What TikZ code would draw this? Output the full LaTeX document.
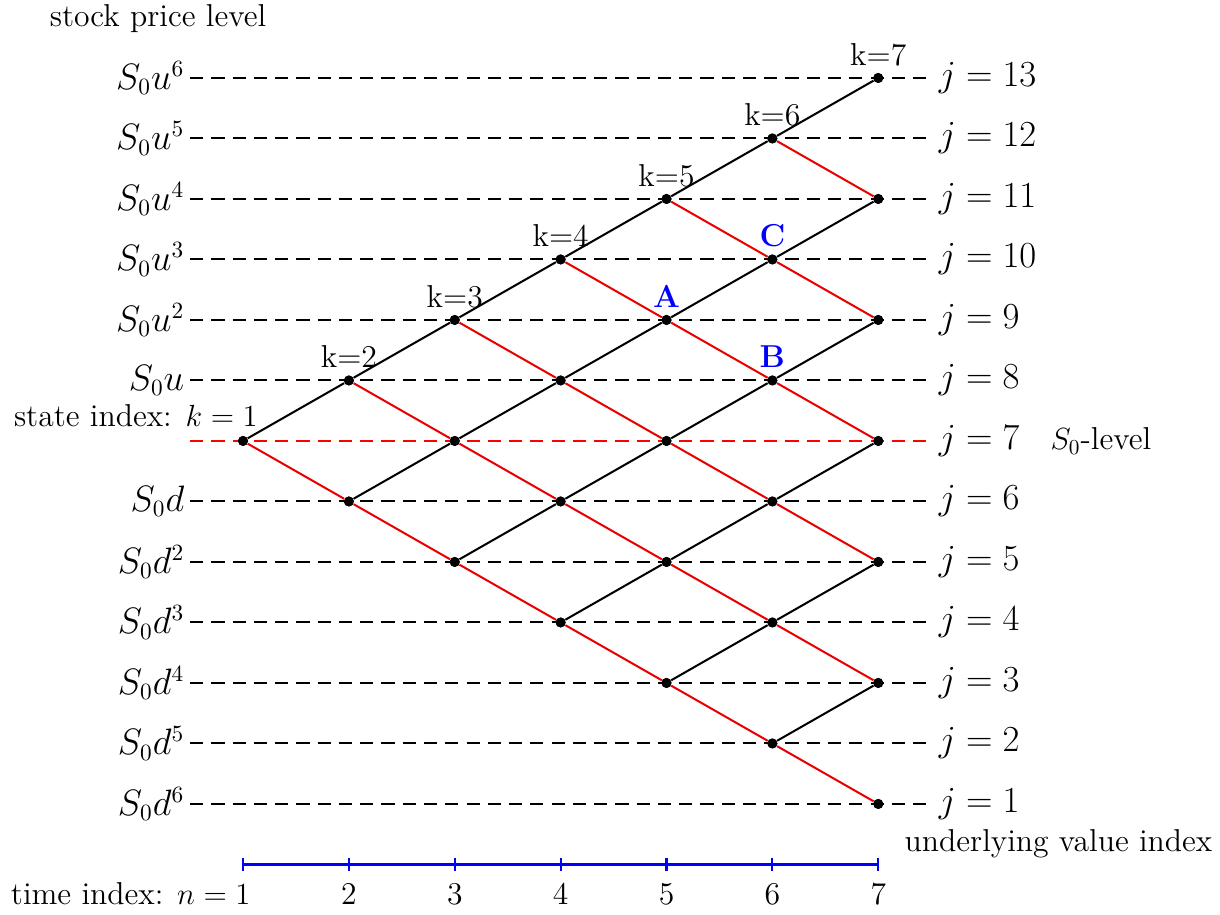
\documentclass[tikz,border=0pt]{standalone}
\usetikzlibrary{calc}
\begin{document}
\begin{tikzpicture}[x=1cm,y=1cm,
  every node/.style={font=\fontsize{14.9pt}{18pt}\selectfont},
  dot/.style={circle,fill=black,inner sep=0pt,minimum size=4.7pt},
  level/.style={dash pattern=on 6.2pt off 3.8pt,line width=0.95pt},
  upedge/.style={line width=0.95pt,black},
  downedge/.style={line width=0.95pt,red!92!black},
  txt/.style={inner sep=0pt},
  sidelab/.style={inner sep=0pt,font=\fontsize{16pt}{19pt}\selectfont},
  klab/.style={inner sep=0pt,anchor=base,yshift=0.117cm},
  letlab/.style={klab,text=blue,font=\fontsize{14.9pt}{18pt}\selectfont\bfseries},
  axis/.style={blue,line width=1pt}]
\useasboundingbox (-4.017,-7.835) rectangle (16.149,7.289);

% level lines
\foreach \j in {1,...,13} {
  \coordinate (L\j) at (-0.875,\j-7);
  \coordinate (R\j) at (11.375,\j-7);
}
\foreach \j in {1,...,6,8,9,10,11,12,13} {
  \draw[level] (L\j) -- (R\j);
}
\draw[level,red] (L7) -- (R7);

% left labels
\foreach \j/\t in {13/{S_0u^6},12/{S_0u^5},11/{S_0u^4},10/{S_0u^3},9/{S_0u^2},8/{S_0u},
                   6/{S_0d},5/{S_0d^2},4/{S_0d^3},3/{S_0d^4},2/{S_0d^5},1/{S_0d^6}} {
  \node[sidelab,anchor=east] (lab\j) at ($(L\j)+(-0.09,0)$) {$\t$};
}
% right labels
\foreach \j in {1,...,13} {
  \node[sidelab,anchor=west] (rlab\j) at ($(R\j)+(0.12,0)$) {$j=\j$};
}
\node[txt,anchor=west] (s0level) at (13.34,0) {$S_0$-level};

% tree nodes
\foreach \n in {1,...,7} {
  \pgfmathtruncatemacro\nm{\n-1}
  \foreach \i in {0,...,\nm} {
    \pgfmathtruncatemacro\j{8-\n+2*\i}
    \node[dot] (\n-\j) at ({(\n-1)*1.75},{\j-7}) {};
  }
}
% edges
\foreach \n in {1,...,6} {
  \pgfmathtruncatemacro\nm{\n-1}
  \pgfmathtruncatemacro\nn{\n+1}
  \foreach \i in {0,...,\nm} {
    \pgfmathtruncatemacro\j{8-\n+2*\i}
    \pgfmathtruncatemacro\ju{\j+1}
    \pgfmathtruncatemacro\jd{\j-1}
    \draw[upedge] (\n-\j) -- (\nn-\ju);
    \draw[downedge] (\n-\j) -- (\nn-\jd);
  }
}
% redraw dots on top
\foreach \n in {1,...,7} {
  \pgfmathtruncatemacro\nm{\n-1}
  \foreach \i in {0,...,\nm} {
    \pgfmathtruncatemacro\j{8-\n+2*\i}
    \fill (\n-\j) circle (2.35pt);
  }
}

% k labels
\foreach \n in {2,...,7} {
  \pgfmathtruncatemacro\j{6+\n}
  \node[klab] (k\n) at (\n-\j.north) {k=\n};
}
\node[letlab] (labA) at (5-9.north) {A};
\node[letlab] (labB) at (6-8.north) {B};
\node[letlab] (labC) at (6-10.north) {C};

% texts
\node[txt,anchor=base west] (title) at (-3.2,6.843) {stock price level};
\node[txt,anchor=base east] (state) at (0.248,0.236) {state index: $k=1$};
\node[txt,anchor=base west] (uvi) at (10.93,-6.79) {underlying value index};

% time axis
\foreach \n in {1,...,7} {
  \coordinate (T\n) at ({(\n-1)*1.75},-7);
  \draw[axis] ([yshift=0.1cm]T\n) -- ([yshift=-0.1cm]T\n);
}
\draw[axis] (T1) -- (T7);
\node[txt,anchor=base east] (tidx) at (0.13,-7.67) {time index: $n=1$};
\foreach \n in {2,...,7} {
  \node[txt,anchor=base] (tn\n) at ({(\n-1)*1.75},-7.67) {\n};
}
\end{tikzpicture}
\end{document}
